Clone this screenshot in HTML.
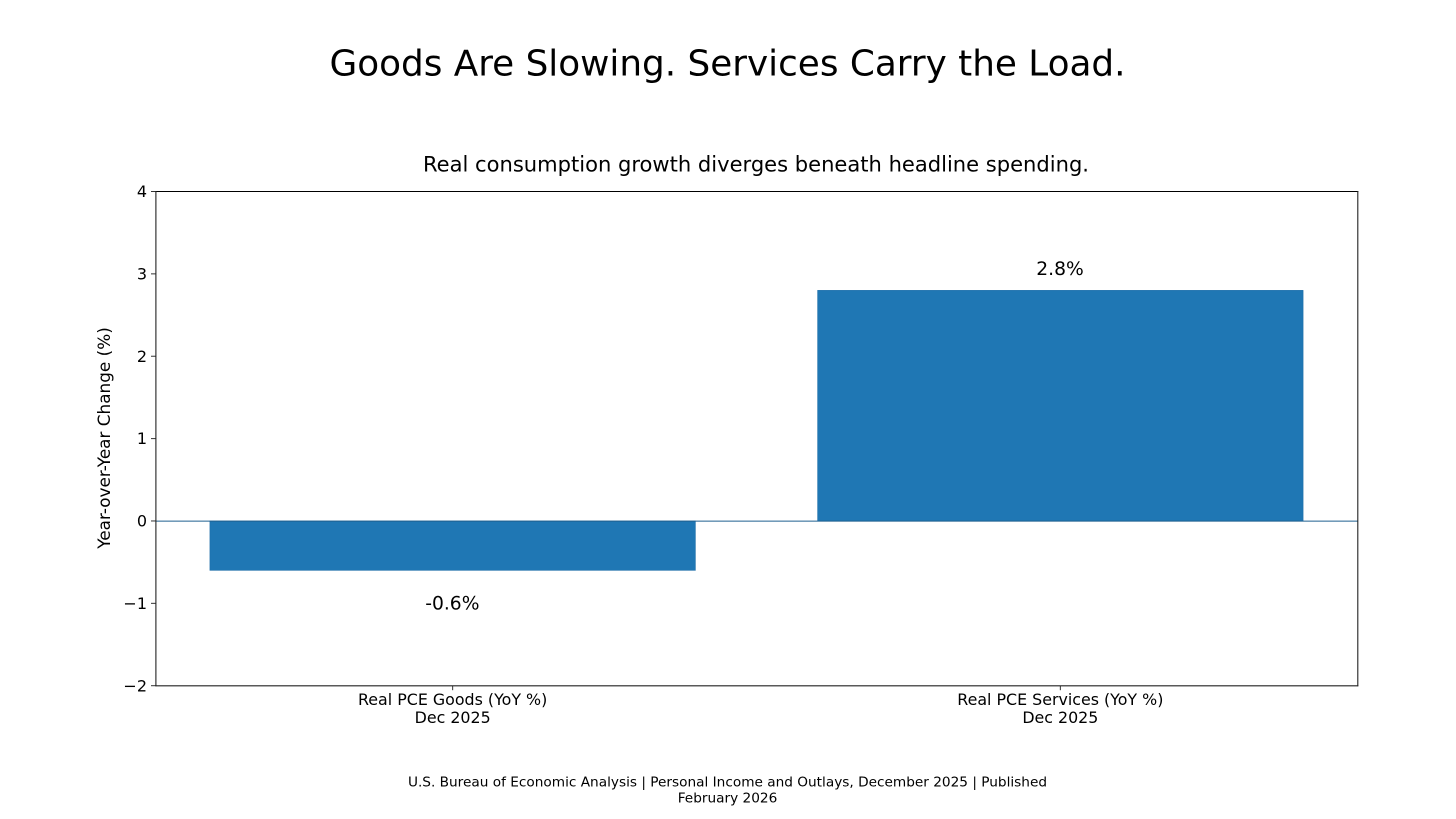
<!DOCTYPE html>
<html lang="en">
<head>
<meta charset="utf-8">
<title>Goods Are Slowing. Services Carry the Load.</title>
<style>
  html, body { margin: 0; padding: 0; background: #fff; }
  #chart { display: block; width: 1456px; height: 819px; }
  text { font-family: "DejaVu Sans", "Liberation Sans", sans-serif; fill: #000; }
</style>
</head>
<body>
<svg id="chart" xmlns="http://www.w3.org/2000/svg" width="1456" height="819" viewBox="0 0 1456 819">
  <rect x="0" y="0" width="1456" height="819" fill="#ffffff"/>
  <text x="727.5" y="75.5" font-size="35.8" text-anchor="middle">Goods Are Slowing. Services Carry the Load.</text>
  <text x="756" y="171.5" font-size="21.05" text-anchor="middle">Real consumption growth diverges beneath headline spending.</text>
  <text transform="translate(110 438) rotate(-90)" font-size="16.85" text-anchor="middle">Year-over-Year Change (%)</text>
  <g id="marks"></g>
  <line x1="155.4" x2="1358.3" y1="191.5" y2="191.5" stroke="#000" stroke-width="1"/>
  <line x1="155.9" x2="155.9" y1="191" y2="686.3" stroke="#222" stroke-width="1.1"/>
  <line x1="155.4" x2="1358.3" y1="685.8" y2="685.8" stroke="#222" stroke-width="1.1"/>
  <line x1="1357.8" x2="1357.8" y1="191" y2="686.3" stroke="#222" stroke-width="1.1"/>
  <text x="727.5" y="786.4" font-size="13.67" text-anchor="middle">U.S. Bureau of Economic Analysis | Personal Income and Outlays, December 2025 | Published</text>
  <text x="727.5" y="802.4" font-size="13.67" text-anchor="middle">February 2026</text>
</svg>
<script>
const categories = ["Real PCE Goods (YoY %)", "Real PCE Services (YoY %)"];
const periods = ["Dec 2025", "Dec 2025"];
const values = [-0.6, 2.8];
const valueLabels = ["-0.6%", "2.8%"];
const yTicks = [-2, -1, 0, 1, 2, 3, 4];
const yTickLabels = ["\u22122", "\u22121", "0", "1", "2", "3", "4"];

const NS = "http://www.w3.org/2000/svg";
const marks = document.getElementById("marks");
const plot = { left: 155.5, right: 1357.5, top: 191.5, bottom: 685.7 };
const yMin = -2, yMax = 4;
const xMin = -0.489, xMax = 1.489;
const barWidth = 0.799;

function xScale(v) {
  return plot.left + (v - xMin) / (xMax - xMin) * (plot.right - plot.left);
}
function yScale(v) {
  return plot.bottom - (v - yMin) / (yMax - yMin) * (plot.bottom - plot.top);
}
function make(tag, attrs, text) {
  const el = document.createElementNS(NS, tag);
  for (const k in attrs) el.setAttribute(k, attrs[k]);
  if (text !== undefined) el.textContent = text;
  marks.appendChild(el);
  return el;
}

// Bars
values.forEach(function (v, i) {
  const x0 = xScale(i - barWidth / 2);
  const x1 = xScale(i + barWidth / 2);
  const y0 = yScale(Math.max(v, 0));
  const y1 = yScale(Math.min(v, 0));
  const bar = make("rect", { x: x0, y: y0, width: x1 - x0, height: y1 - y0, fill: "#1f77b4", stroke: "#1a6aa6", "stroke-width": 0.5 });
  
  
});

// Zero line
const zeroLine = make("line", { x1: plot.left, x2: plot.right, y1: yScale(0) + 0.2, y2: yScale(0) + 0.2, stroke: "#1f5f8f", "stroke-width": 1 });



// Value labels
values.forEach(function (v, i) {
  const yPos = v >= 0 ? yScale(v + 0.2) + 1.2 : yScale(v - 0.4) + 6.2;
  const label = make("text", { x: xScale(i) - 0.3, y: yPos, "font-size": 18.7, "text-anchor": "middle" }, valueLabels[i]);
  
  
});

// Y ticks
yTicks.forEach(function (t, i) {
  const y = yScale(t);
  const tick = make("line", { x1: plot.left - 4.5, x2: plot.left, y1: y, y2: y, stroke: "#333", "stroke-width": 1 });
  
  
  const label = make("text", { x: plot.left - 8.5, y: y + 5.6, "font-size": 16, "text-anchor": "end" }, yTickLabels[i]);
  
  
});

// X ticks
categories.forEach(function (c, i) {
  const x = xScale(i);
  const tick = make("line", { x1: x, x2: x, y1: plot.bottom, y2: plot.bottom + 4.5, stroke: "#333", "stroke-width": 1 });
  
  
  const line1 = make("text", { x: x, y: 705, "font-size": 15.85, "text-anchor": "middle" }, c);
  
  
  const line2 = make("text", { x: x, y: 723, "font-size": 15.85, "text-anchor": "middle" }, periods[i]);
  
  
});
</script>
</body>
</html>
